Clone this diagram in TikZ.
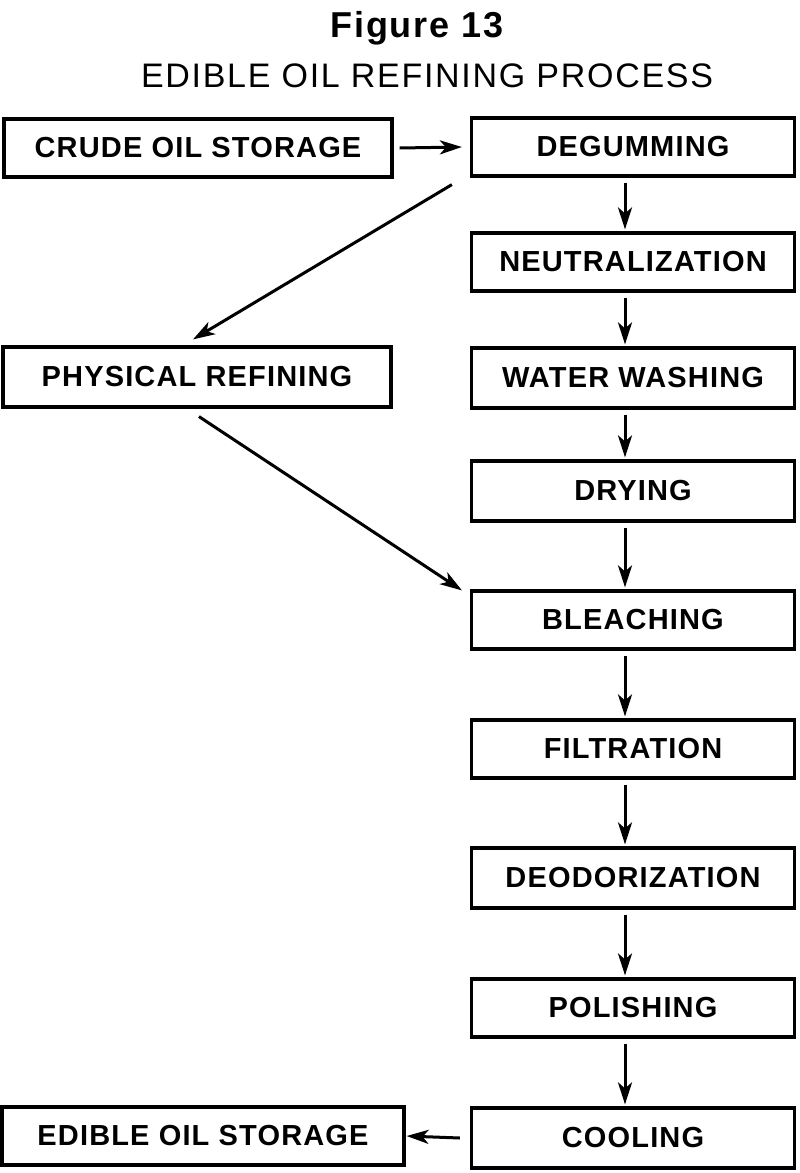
\documentclass[tikz,border=0pt]{standalone}
\usepackage{fontspec}
\setmainfont{Liberation Sans}
\newfontfamily\boxfont[LetterSpace=4]{Liberation Sans}
\newfontfamily\headfont[LetterSpace=5]{Liberation Sans}
\usetikzlibrary{arrows.meta,positioning}

\begin{document}
\begin{tikzpicture}[x=1pt,y=-1pt,
  stage/.style={draw,line width=3.2pt,inner sep=0pt,minimum height=58pt,
    font=\boxfont\bfseries\fontsize{29}{31}\selectfont},
  wide/.style={stage,minimum width=323pt},
  flow/.style={-{Stealth[length=22pt,width=14pt,inset=6pt]},line width=3pt}]
\useasboundingbox (0,0) rectangle (800,1173);
% titles
\node[anchor=base,font=\headfont\bfseries\fontsize{36}{38}\selectfont] (fig) at (417,37) {Figure\hspace{12pt}13};
\node[anchor=base,font=\headfont\fontsize{34}{36}\selectfont] (title) at (427,87) {EDIBLE OIL REFINING PROCESS};
% left column
\node[stage,minimum width=388pt] (crude) at (198,148) {CRUDE OIL STORAGE};
\node[stage,minimum width=388pt,minimum height=60pt] (phys) at (197,377) {PHYSICAL REFINING};
\node[stage,minimum width=402pt] (store) at (203,1136) {EDIBLE OIL STORAGE};
% right column
\node[wide] (degum) at (633,147) {DEGUMMING};
\node[wide] (neut) at (633,262) {NEUTRALIZATION};
\node[wide,minimum height=60pt] (wash) at (633,378) {WATER WASHING};
\node[wide,minimum height=60pt] (dry) at (633,491) {DRYING};
\node[wide] (bleach) at (633,620) {BLEACHING};
\node[wide] (filt) at (633,749) {FILTRATION};
\node[wide,minimum height=60pt] (deodor) at (633,878) {DEODORIZATION};
\node[wide] (polish) at (633,1008) {POLISHING};
\node[wide,minimum height=60pt] (cool) at (633,1138) {COOLING};
% arrows
\draw[flow] ([shift={(6,0)}]crude.east) -- ([shift={(-8,0)}]degum.west);
\foreach \a/\b in {degum/neut,neut/wash,wash/dry,dry/bleach,bleach/filt,filt/deodor,deodor/polish,polish/cool}
  \draw[flow] ([shift={(-8,5)}]\a.south) -- ([shift={(-8,-2)}]\b.north);
\draw[flow] ([shift={(-18,7)}]degum.south west) -- ([shift={(-4,-6)}]phys.north);
\draw[flow] ([shift={(2,8)}]phys.south) -- ([shift={(-8,1)}]bleach.north west);
\draw[flow] ([shift={(-10,0)}]cool.west) -- ([shift={(1,0)}]store.east);
\end{tikzpicture}
\end{document}
